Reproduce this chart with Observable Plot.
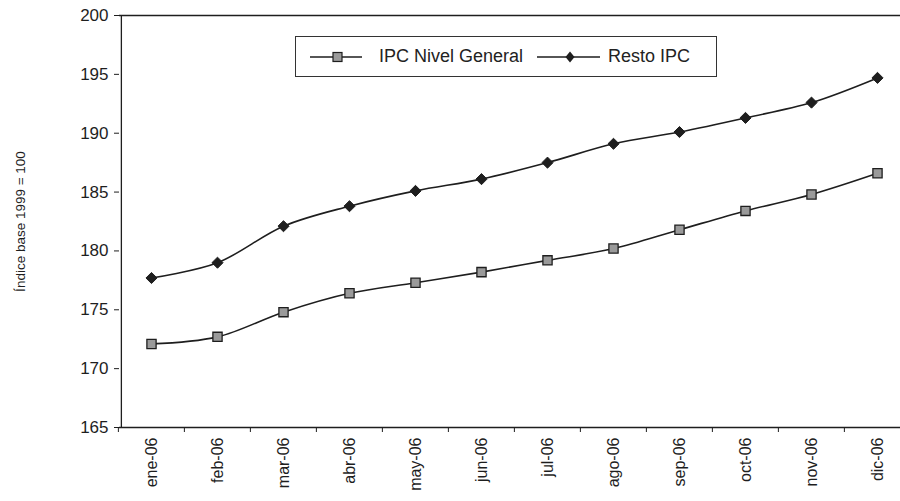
<!DOCTYPE html>
<html>
<head>
<meta charset="utf-8">
<script src="https://cdn.jsdelivr.net/npm/d3@7"></script>
<script src="https://cdn.jsdelivr.net/npm/@observablehq/plot@0.6"></script>
<style>
  html, body { margin: 0; padding: 0; background: #fff; overflow: hidden; }
  #wrap { position: relative; width: 900px; height: 501px; font-family: "Liberation Sans", Arial, sans-serif; }
  #legend { position: absolute; left: 295px; top: 36px; width: 422px; height: 41px;
    border: 1px solid #333; display: flex; align-items: center; font-size: 18px; color: #222; box-sizing: border-box; }
  #legend .item { display: flex; align-items: center; }
  #legend svg { display: block; }
</style>
</head>
<body>
<div id="wrap"></div>
<script>
const months = ["ene-06","feb-06","mar-06","abr-06","may-06","jun-06","jul-06","ago-06","sep-06","oct-06","nov-06","dic-06"];
const ipcGeneral = [172.1, 172.7, 174.8, 176.4, 177.3, 178.2, 179.2, 180.2, 181.8, 183.4, 184.8, 186.6];
const restoIPC   = [177.7, 179.0, 182.1, 183.8, 185.1, 186.1, 187.5, 189.1, 190.1, 191.3, 192.6, 194.7];
const seriesNames = ["IPC Nivel General", "Resto IPC"];
const yTicks = [165, 170, 175, 180, 185, 190, 195, 200];
const yLabel = "Índice base 1999 = 100";

const gen = months.map((m, i) => ({month: m, value: ipcGeneral[i], series: seriesNames[0]}));
const resto = months.map((m, i) => ({month: m, value: restoIPC[i], series: seriesNames[1]}));

const ink = "#1e1e1e";
const font = "Liberation Sans, Arial, sans-serif";
const step = (911 - 116) / months.length;

const chart = Plot.plot({
  width: 900,
  height: 501,
  marginLeft: 119,
  marginRight: 0,
  marginTop: 15,
  marginBottom: 74,
  style: {fontFamily: font, color: ink, background: "#fff", overflow: "visible"},
  x: {type: "band", domain: months, range: [116, 911], padding: 0},
  y: {domain: [165, 200]},
  marks: [
    Plot.axisY({ticks: yTicks, tickSize: 5, tickPadding: 6, fontSize: 17, label: null, stroke: ink, fill: ink}),
    Plot.axisX({tickSize: 5, text: null, dx: -step / 2, label: null, stroke: ink}),
    Plot.axisX({tickSize: 0, tickRotate: -90, tickPadding: 10, fontSize: 16, label: null, fill: ink}),
    Plot.ruleX([0], {y1: 165, y2: 200, x: () => months[0], dx: -(116 + step / 2 - 119), stroke: ink, strokeWidth: 1.3}),
    Plot.ruleY([165, 200], {stroke: ink, strokeWidth: 1.3}),
    Plot.text([yLabel], {frameAnchor: "left", textAnchor: "middle", rotate: -90, dx: -99, fontSize: 13.5, fill: ink}),
    Plot.line(gen, {x: "month", y: "value", stroke: ink, strokeWidth: 1.6, curve: "catmull-rom"}),
    Plot.line(resto, {x: "month", y: "value", stroke: ink, strokeWidth: 1.6, curve: "catmull-rom"}),
    Plot.dot(gen, {x: "month", y: "value", symbol: "square", r: 5.2, fill: "#9a9a9a", stroke: ink, strokeWidth: 1.3}),
    Plot.dot(resto, {x: "month", y: "value", symbol: "diamond2", r: 5, fill: ink, stroke: ink, strokeWidth: 1})
  ]
});

const wrap = document.getElementById("wrap");
wrap.appendChild(chart);

const legend = document.createElement("div");
legend.id = "legend";
legend.innerHTML = `
  <div class="item" style="margin-left:14px">
    <svg width="52" height="14"><line x1="0" y1="7" x2="52" y2="7" stroke="${ink}" stroke-width="1.6"/>
      <rect x="23" y="2.5" width="9" height="9" fill="#9a9a9a" stroke="${ink}" stroke-width="1.2"/></svg>
    <span style="margin-left:17px">${seriesNames[0]}</span>
  </div>
  <div class="item" style="margin-left:14px">
    <svg width="63" height="14"><line x1="0" y1="7" x2="63" y2="7" stroke="${ink}" stroke-width="1.6"/>
      <path d="M33,1.5 L37.5,7 L33,12.5 L28.5,7 Z" fill="${ink}"/></svg>
    <span style="margin-left:8px">${seriesNames[1]}</span>
  </div>`;
wrap.appendChild(legend);
</script>
</body>
</html>
